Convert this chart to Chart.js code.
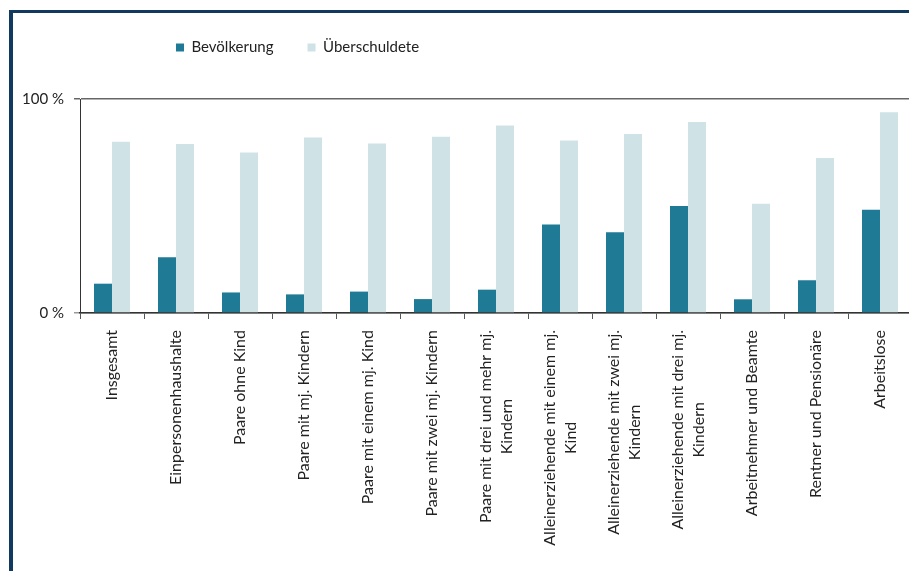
<!DOCTYPE html>
<html>
<head>
<meta charset="utf-8">
<script src="https://cdn.jsdelivr.net/npm/chart.js@4.4.1/dist/chart.umd.min.js"></script>
<style>
  html, body { margin: 0; padding: 0; background: #fff; overflow: hidden; }
  #frame {
    position: absolute; left: 9px; top: 10px; width: 910px; height: 570px;
    border-left: 4px solid #123a5e; border-top: 3px solid #123a5e;
    pointer-events: none;
  }
  canvas { position: absolute; left: 0; top: 0; }
</style>
</head>
<body>
<canvas id="chart" width="912" height="571"></canvas>
<div id="frame"></div>
<script>
const categories = [
    'Insgesamt',
    'Einpersonenhaushalte',
    'Paare ohne Kind',
    'Paare mit mj. Kindern',
    'Paare mit einem mj. Kind',
    'Paare mit zwei mj. Kindern',
    ['Paare mit drei und mehr mj.', 'Kindern'],
    ['Alleinerziehende mit einem mj.', 'Kind'],
    ['Alleinerziehende mit zwei mj.', 'Kindern'],
    ['Alleinerziehende mit drei mj.', 'Kindern'],
    'Arbeitnehmer und Beamte',
    'Rentner und Pensionäre',
    'Arbeitslose'
];
const bevoelkerung = [13.7, 26, 9.6, 8.7, 10, 6.5, 10.9, 41.3, 37.7, 50, 6.4, 15.3, 48.3];
const ueberschuldete = [80, 79, 75, 82, 79.2, 82.4, 87.6, 80.6, 83.6, 89.3, 51, 72.4, 93.8];
const yTicks = [0, 100];

const ctx = document.querySelector('#chart').getContext('2d');

// x labels drawn rotated, second line centred on the first
const xLabels = {
    id: 'xLabels',
    afterDraw(chart) {
        const c = chart.ctx;
        const x = chart.scales.x;
        c.save();
        c.font = '16px Lato';
        c.fillStyle = '#222';
        c.textAlign = 'center';
        c.textBaseline = 'middle';
        categories.forEach((lab, i) => {
            const lines = Array.isArray(lab) ? lab : [lab];
            const w = Math.max(...lines.map(l => c.measureText(l).width));
            c.save();
            c.translate(x.getPixelForValue(i), x.top + 17);
            c.rotate(-Math.PI / 2);
            lines.forEach((l, j) => {
                c.fillText(l, -w / 2, (j - (lines.length - 1) / 2) * 21);
            });
            c.restore();
        });
        c.restore();
    }
};

// move the legend to where it sits in the original
const legendShift = {
    id: 'legendShift',
    afterLayout(chart) {
        chart.legend.left = 142;
        chart.legend.top = 6;
    }
};

new Chart(ctx, {
    type: 'bar',
    data: {
        labels: categories,
        datasets: [
            {
                label: 'Bevölkerung',
                data: bevoelkerung,
                backgroundColor: '#1f7a96',
                categoryPercentage: 0.5625,
                barPercentage: 1
            },
            {
                label: 'Überschuldete',
                data: ueberschuldete,
                backgroundColor: '#cfe2e6',
                categoryPercentage: 0.5625,
                barPercentage: 1
            }
        ]
    },
    options: {
        responsive: false,
        animation: false,
        layout: { padding: { top: 40, left: 0, right: 0, bottom: 252 } },
        plugins: {
            legend: {
                align: 'start',
                labels: {
                    boxWidth: 8,
                    boxHeight: 8,
                    padding: 34,
                    color: '#222',
                    font: { family: 'Lato', size: 15 }
                }
            },
            tooltip: { enabled: false }
        },
        scales: {
            x: {
                ticks: { display: false },
                grid: { drawOnChartArea: false, tickLength: 6, color: '#555' },
                border: { color: '#333', width: 1.5 }
            },
            y: {
                min: 0,
                max: 100,
                afterBuildTicks(s) { s.ticks = yTicks.map(v => ({ value: v })); },
                afterFit(s) { s.width = 80; },
                ticks: {
                    padding: 10,
                    color: '#222',
                    font: { family: 'Lato', size: 15 },
                    callback: v => v + ' %'
                },
                grid: {
                    tickLength: 6,
                    lineWidth: 1.5,
                    color: c => c.tick && c.tick.value === 100 ? '#666' : '#999'
                },
                border: { color: '#333', width: 1 }
            }
        }
    },
    plugins: [xLabels, legendShift]
});
</script>
</body>
</html>
